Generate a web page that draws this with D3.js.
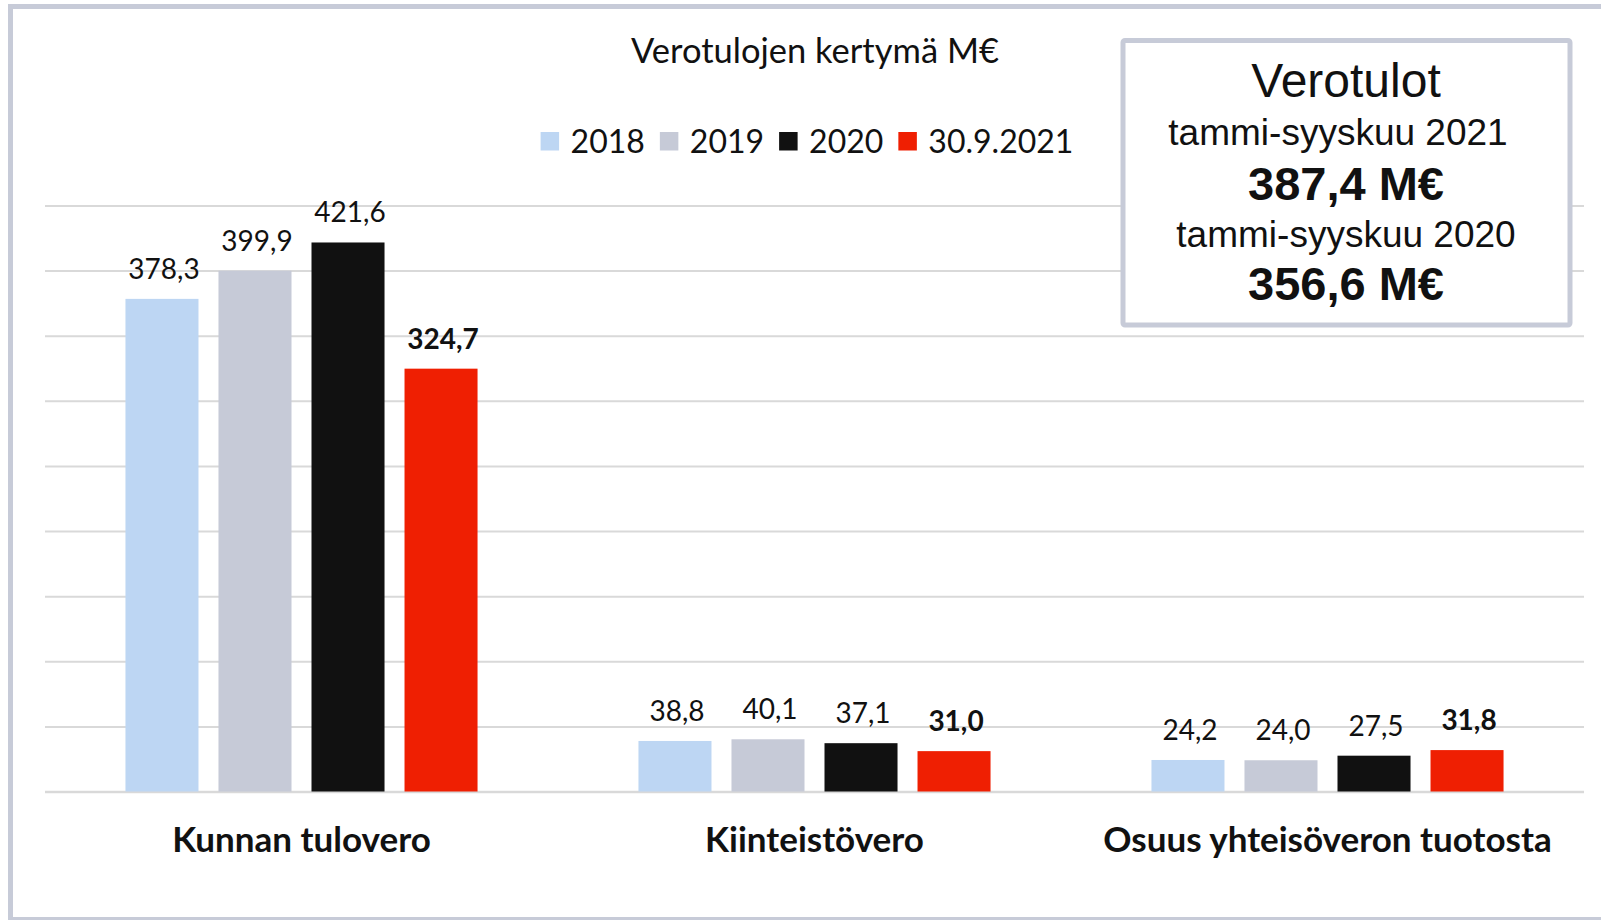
<!DOCTYPE html>
<html>
<head>
<meta charset="utf-8">
<style>
  body { margin: 0; background: #fff; }
  svg { display: block; font-family: Lato, "Open Sans", sans-serif; }
</style>
</head>
<body>
<svg width="1601" height="920"></svg>
<script src="https://cdn.jsdelivr.net/npm/d3@7"></script>
<script>

// data
var categories = ["Kunnan tulovero", "Kiinteistövero", "Osuus yhteisöveron tuotosta"];
var seriesNames = ["2018", "2019", "2020", "30.9.2021"];
var values2018 = [378.3, 38.8, 24.2];
var values2019 = [399.9, 40.1, 24.0];
var values2020 = [421.6, 37.1, 27.5];
var values2021 = [324.7, 31.0, 31.8];
var yTicks = [0, 50, 100, 150, 200, 250, 300, 350, 400, 450];
var boxLines = ["Verotulot", "tammi-syyskuu 2021", "387,4 M€", "tammi-syyskuu 2020", "356,6 M€"];

var colors = ["#bdd6f3", "#c6cad7", "#111111", "#ef1f02"];
var allValues = [values2018, values2019, values2020, values2021];

var svg = d3.select("svg"),
    width = +svg.attr("width"),
    height = +svg.attr("height");

var fmt = function(v) { return d3.format(".1f")(v).replace(".", ","); };

// outer frame
svg.append("rect")
    .attr("x", 10.5).attr("y", 6.5)
    .attr("width", 1620).attr("height", 913)
    .attr("fill", "#fff")
    .attr("stroke", "#c7cbd8")
    .attr("stroke-width", 5);

var x0 = d3.scaleBand()
    .domain(categories)
    .range([45, 1584]);

var x1 = d3.scaleBand()
    .domain(seriesNames)
    .range([0, x0.bandwidth()])
    .paddingInner(0.215)
    .paddingOuter(0.865);

var y = d3.scaleLinear()
    .domain([0, 450])
    .range([791.5, 205.5]);

// gridlines
var grid = svg.append("g")
    .attr("transform", "translate(45,0)")
    .call(d3.axisLeft(y).tickValues(yTicks).tickSize(-1539).tickFormat(""));
grid.select(".domain").remove();
grid.selectAll(".tick line")
    .attr("stroke", "#d9d9d9")
    .attr("stroke-width", function(d) { return d === 0 ? 2.5 : 2; });

// bars
var rows = [];
categories.forEach(function(c, i) {
  seriesNames.forEach(function(s, j) {
    rows.push({cat: c, series: s, idx: j, value: allValues[j][i]});
  });
});

var groups = svg.selectAll(".bar")
    .data(rows).enter()
    .append("g")
    .attr("class", "bar")
    .attr("transform", function(d) { return "translate(" + (x0(d.cat) + x1(d.series)) + ",0)"; });

groups.append("rect")
    .attr("y", function(d) { return y(d.value); })
    .attr("width", x1.bandwidth())
    .attr("height", function(d) { return y(0) - y(d.value); })
    .attr("fill", function(d) { return colors[d.idx]; });

groups.append("text")
    .attr("x", x1.bandwidth() / 2 + 2)
    .attr("y", function(d) { return y(d.value) - 20; })
    .attr("text-anchor", "middle")
    .attr("font-size", "28px")
    .attr("font-weight", function(d) { return d.idx === 3 ? "bold" : "normal"; })
    .attr("fill", "#111")
    .text(function(d) { return fmt(d.value); });

// category labels
svg.selectAll(".cat")
    .data(categories).enter()
    .append("text")
    .attr("class", "cat")
    .attr("x", function(d) { return x0(d) + x0.bandwidth() / 2; })
    .attr("y", 852)
    .attr("text-anchor", "middle")
    .attr("font-size", "35px")
    .attr("font-weight", "bold")
    .attr("fill", "#111")
    .text(function(d) { return d; });

// title
svg.append("text")
    .attr("x", 815)
    .attr("y", 63)
    .attr("text-anchor", "middle")
    .attr("font-size", "34.5px")
    .attr("fill", "#111")
    .text("Verotulojen kertymä M€");

// legend
var legend = svg.append("g");
var lx = 0;
seriesNames.forEach(function(s, i) {
  var item = legend.append("g").attr("transform", "translate(" + lx + ",0)");
  item.append("rect")
      .attr("x", 0).attr("y", 132)
      .attr("width", 18.5).attr("height", 18.5)
      .attr("fill", colors[i]);
  var t = item.append("text")
      .attr("x", 30).attr("y", 153)
      .attr("font-size", "32px")
      .attr("fill", "#111")
      .text(s);
  lx += 30 + t.node().getComputedTextLength() + 15;
});
var lw = lx - 15;
legend.attr("transform", "translate(" + (807 - lw / 2) + ",0)");

// info box
svg.append("rect")
    .attr("x", 1123).attr("y", 40.5)
    .attr("width", 447).attr("height", 284.5)
    .attr("rx", 2)
    .attr("fill", "#fff")
    .attr("stroke", "#c7cbd8")
    .attr("stroke-width", 5);

var boxY = [97, 145, 200, 247, 300];
var boxSize = [48, 37, 47, 37, 47];
var boxBold = [false, false, true, false, true];
var boxX = [1346, 1338, 1346, 1346, 1346];
svg.selectAll(".boxtext")
    .data(boxLines).enter()
    .append("text")
    .attr("class", "boxtext")
    .attr("x", function(d, i) { return boxX[i]; })
    .attr("y", function(d, i) { return boxY[i]; })
    .attr("text-anchor", "middle")
    .attr("font-family", "'Liberation Sans', Arial, sans-serif")
    .attr("font-size", function(d, i) { return boxSize[i] + "px"; })
    .attr("font-weight", function(d, i) { return boxBold[i] ? "bold" : "normal"; })
    .attr("fill", "#111")
    .text(function(d) { return d; });

</script>
</body>
</html>
